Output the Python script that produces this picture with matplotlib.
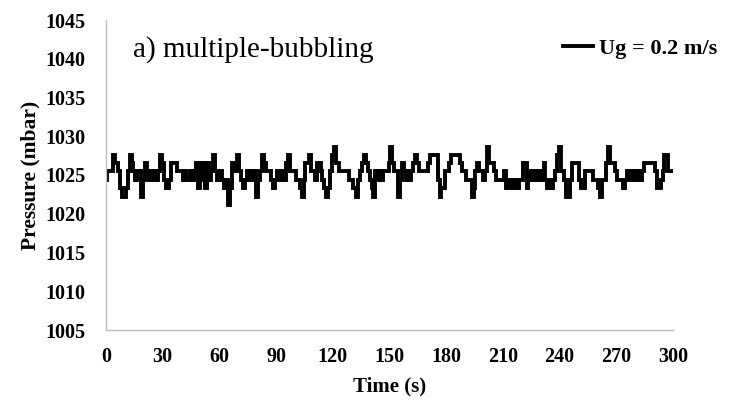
import matplotlib
matplotlib.use("Agg")
import matplotlib.pyplot as plt
import numpy as np

# Quantised pressure levels (mbar) of the transducer
A, B, C, D, E, F, G, H = 1021.1, 1022.2, 1023.3, 1024.4, 1025.5, 1026.6, 1027.6, 1028.6

# Pressure sampled once per second, t = 0 ... 300 s
pressure = [
    D, E, E, E, G, F, F, E, C, B,
    B, C, E, G, F, E, D, E, E, B,
    D, F, E, D, E, D, E, D, E, G,
    F, D, C, C, D, F, F, F, E, E,
    E, D, E, D, D, E, D, E, F, C,
    F, D, F, C, F, D, E, G, E, D,
    D, E, D, C, D, A, C, F, F, E,
    G, E, D, C, D, E, D, E, D, E,
    B, D, E, G, F, E, E, E, D, C,
    D, E, E, D, E, D, F, G, E, E,
    E, D, D, C, B, D, F, F, G, E,
    E, D, F, F, E, D, C, B, C, E,
    G, H, F, F, E, E, E, E, E, D,
    D, C, C, B, D, E, F, G, F, E,
    D, C, B, E, D, E, D, E, E, E,
    F, H, F, E, E, B, D, F, E, D,
    E, D, E, F, G, F, E, E, E, E,
    E, F, G, G, G, G, D, B, C, C,
    E, E, F, G, G, G, G, G, F, E,
    E, D, D, D, B, C, E, F, E, E,
    D, E, H, F, F, F, E, D, D, D,
    D, E, C, D, C, D, C, D, C, D,
    D, F, F, C, D, E, D, E, D, E,
    D, E, F, D, C, D, C, D, E, G,
    H, E, E, D, B, B, D, F, F, F,
    F, D, C, C, E, E, E, E, D, D,
    D, C, B, D, D, F, H, F, F, F,
    E, D, D, D, C, D, E, D, E, D,
    E, D, E, D, E, F, F, F, F, F,
    F, E, C, C, D, E, G, G, E, E,
    E,
]
time_s = np.arange(len(pressure))

x_ticks = [0, 30, 60, 90, 120, 150, 180, 210, 240, 270, 300]
y_ticks = [1005, 1010, 1015, 1020, 1025, 1030, 1035, 1040, 1045]

serif = ["Liberation Serif", "DejaVu Serif"]
plt.rcParams["font.family"] = serif

W, Hpx = 749, 401
fig = plt.figure(figsize=(W / 100, Hpx / 100), dpi=100)
ax = fig.add_axes([106 / W, 1 - 330 / Hpx, 567 / W, 310 / Hpx])

ax.plot(time_s, pressure, color="black", lw=2.8, drawstyle="steps-mid",
        solid_joinstyle="miter", label="Ug = 0.2 m/s")

ax.set_xlim(0, 300)
ax.set_ylim(1005, 1045)
ax.set_xticks(x_ticks)
ax.set_yticks(y_ticks)
ax.tick_params(axis="y", length=0, pad=15, labelsize=14.5)
ax.tick_params(axis="x", length=0, pad=12, labelsize=14.5)
for lbl in ax.get_xticklabels() + ax.get_yticklabels():
    lbl.set_fontweight("bold")

for side in ("top", "right"):
    ax.spines[side].set_visible(False)
for side in ("left", "bottom"):
    ax.spines[side].set_color("#BFBFBF")
    ax.spines[side].set_linewidth(1.0)

ax.set_xlabel("Time (s)", fontsize=15, fontweight="bold", labelpad=7)
ax.set_ylabel("Pressure (mbar)", fontsize=15.5, fontweight="bold", labelpad=3)

ax.text(0.048, 0.905, "a) multiple-bubbling", transform=ax.transAxes,
        fontsize=21, ha="left", va="center")

leg = ax.legend(loc="upper right", bbox_to_anchor=(728 / W, 1 - 27 / Hpx),
                bbox_transform=fig.transFigure, frameon=False,
                borderpad=0, handlelength=1.35, handletextpad=0.25,
                prop={"weight": "bold", "size": 16, "family": serif})

fig.savefig("out.png", dpi=100)
